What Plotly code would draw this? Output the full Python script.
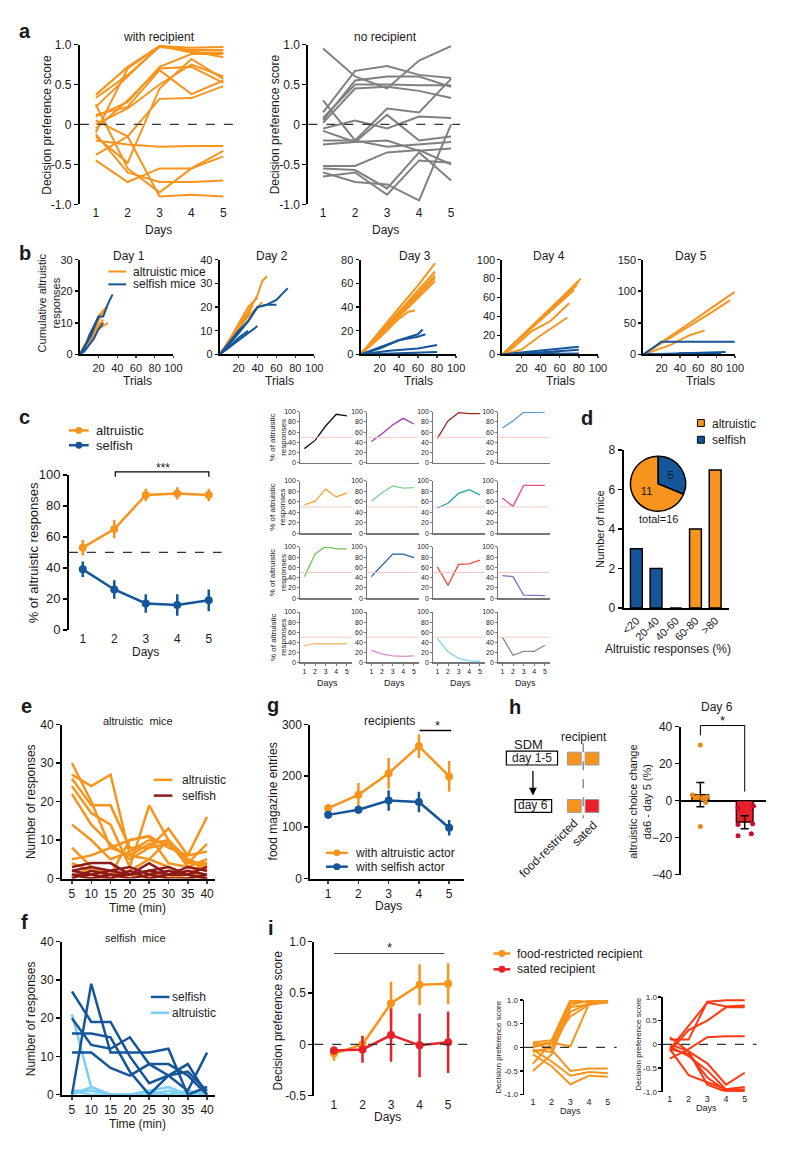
import plotly.graph_objects as go

W, H = 800, 1153
FONT = 'Liberation Sans, Arial, Helvetica, sans-serif'
ORANGE = '#F7941D'
BLUE = '#15569A'
GREY = '#808080'
DARKRED = '#8E1B1B'
LIGHTBLUE = '#7CCFF4'
RED = '#E8202A'
RED2 = '#FF3A12'
TXT = '#1a1a1a'

# ---------------- DATA ----------------
days = [1, 2, 3, 4, 5]
day_ticks = ['1', '2', '3', '4', '5']

# panel a: decision preference score per mouse
a_with_recipient = [
    [0.37, 0.72, 0.98, 0.96, 0.97],
    [0.33, 0.62, 0.97, 0.93, 0.93],
    [0.22, 0.60, 0.98, 0.90, 0.90],
    [-0.10, 0.70, 0.98, 0.92, 0.84],
    [0.10, 0.28, 0.72, 0.88, 0.88],
    [0.12, 0.22, 0.68, 0.38, 0.55],
    [0.00, 0.20, 0.50, 0.75, 0.60],
    [-0.05, 0.30, 0.70, 0.72, 0.52],
    [-0.15, -0.48, 0.45, 0.82, 0.57],
    [0.05, -0.15, 0.32, 0.33, 0.48],
    [-0.20, -0.25, -0.28, -0.27, -0.27],
    [0.25, -0.55, -0.85, -0.55, -0.33],
    [-0.45, -0.72, -0.55, -0.55, -0.40],
    [-0.12, -0.60, -0.72, -0.72, -0.70],
    [-0.38, -0.15, -0.90, -0.88, -0.90],
]
a_no_recipient = [
    [0.95, 0.60, 0.45, 0.80, 0.98],
    [0.15, 0.67, 0.73, 0.62, 0.58],
    [0.05, 0.55, 0.60, 0.60, 0.47],
    [0.08, 0.50, 0.50, 0.49, 0.49],
    [0.02, 0.45, 0.47, 0.42, 0.33],
    [0.30, -0.20, 0.20, 0.15, 0.57],
    [-0.05, 0.05, -0.05, 0.10, 0.08],
    [-0.08, -0.22, 0.12, -0.20, -0.15],
    [-0.20, -0.20, -0.28, -0.25, -0.22],
    [-0.25, -0.22, -0.20, -0.33, -0.30],
    [-0.52, -0.52, -0.35, -0.32, -0.50],
    [-0.55, -0.57, -0.80, -0.35, -0.70],
    [-0.60, -0.72, -0.75, -0.95, 0.00],
    [-0.65, -0.60, -0.88, -0.45, -0.48],
]

# panel b: cumulative altruistic responses vs trials (read knots)
b_titles = ['Day 1', 'Day 2', 'Day 3', 'Day 4', 'Day 5']
b_ymax = [30, 40, 80, 100, 150]
b_yticks = [[0, 10, 20, 30], [0, 10, 20, 30, 40], [0, 20, 40, 60, 80],
            [0, 20, 40, 60, 80, 100], [0, 50, 100, 150]]
b_trial_ticks = [20, 40, 60, 80, 100]
b_altruistic_trials = [
    [[0, 5, 10, 15, 20, 25, 30], [0, 8, 15, 22, 28], [0, 10, 20, 25, 30], [0, 6, 12, 18, 24], [0, 5, 10, 15, 20, 25]],
    [[0, 10, 20, 30, 40, 45, 50], [0, 10, 20, 30, 40], [0, 10, 20, 30, 35], [0, 8, 16, 24, 30], [0, 10, 20, 30, 40, 45], [0, 10, 20, 30]],
    [[0, 20, 40, 60, 78], [0, 20, 40, 60, 78], [0, 20, 40, 60, 78], [0, 20, 40, 60, 78], [0, 20, 40, 60, 78], [0, 20, 40, 50, 57]],
    [[0, 20, 40, 60, 82], [0, 20, 40, 60, 80], [0, 20, 40, 60, 78], [0, 20, 40, 60, 75], [0, 10, 30, 50, 70], [0, 20, 40, 55, 68]],
    [[0, 25, 50, 75, 100], [0, 25, 50, 75, 95], [0, 30, 50, 67]],
]
b_altruistic_counts = [
    [[0, 3, 5, 8, 12, 14, 15], [0, 4, 7, 12, 15], [0, 4, 8, 9, 10], [0, 3, 6, 10, 13], [0, 2, 5, 7, 9, 11]],
    [[0, 5, 12, 18, 25, 31, 33], [0, 6, 13, 20, 24], [0, 5, 11, 17, 21], [0, 4, 9, 14, 17], [0, 6, 11, 16, 20, 22], [0, 5, 9, 14]],
    [[0, 20, 39, 58, 77], [0, 18, 36, 54, 70], [0, 17, 34, 51, 67], [0, 17, 33, 50, 65], [0, 16, 32, 48, 62], [0, 14, 30, 36, 37]],
    [[0, 19, 39, 58, 80], [0, 19, 38, 57, 77], [0, 19, 37, 56, 73], [0, 18, 36, 54, 68], [0, 6, 24, 35, 54], [0, 5, 20, 30, 39]],
    [[0, 24, 49, 74, 99], [0, 22, 45, 67, 86], [0, 15, 30, 38]],
]
b_selfish_trials = [
    [[0, 5, 10, 15, 20, 25, 30, 35], [0, 5, 10, 15, 20, 25], [0, 4, 8, 12, 16, 20]],
    [[0, 10, 20, 30, 40, 50, 60, 72], [0, 10, 20, 30, 40, 50, 60], [0, 10, 20, 30, 40], [0, 10, 20, 30]],
    [[0, 20, 40, 60, 65], [0, 20, 40, 60, 68], [0, 30, 60, 80], [0, 40, 80], [0, 60]],
    [[0, 40, 80], [0, 40, 80], [0, 80], [0, 60]],
    [[0, 20, 100], [0, 80], [0, 90], [0, 35, 40, 85]],
]
b_selfish_counts = [
    [[0, 2, 6, 9, 12, 12, 16, 19], [0, 1, 3, 5, 8, 10], [0, 2, 4, 6, 9, 12]],
    [[0, 4, 9, 14, 20, 21, 23, 28], [0, 5, 10, 14, 20, 21, 21], [0, 3, 6, 9, 12], [0, 3, 7, 10]],
    [[0, 5, 12, 17, 21], [0, 6, 12, 15, 17], [0, 3, 5, 8], [0, 1, 2], [0, 0]],
    [[0, 4, 8], [0, 2, 5], [0, 1], [0, 3]],
    [[0, 20, 20], [0, 2], [0, 4], [0, 0, 2, 2]],
]

# panel c: mean % altruistic responses
c_altruistic_mean = [53, 65, 87, 88, 87]
c_altruistic_sem = [5, 6, 4, 4, 4]
c_selfish_mean = [39, 26, 17, 16, 19]
c_selfish_sem = [5, 6, 6, 7, 7]
# individual mice (4x4 grid)
c_mice = [
    [28, 44, 72, 95, 92], [42, 57, 74, 87, 76], [48, 82, 98, 96, 96], [68, 82, 99, 98, 99],
    [54, 61, 84, 69, 77], [61, 77, 90, 86, 87], [48, 57, 76, 83, 73], [67, 51, 91, 91, 91],
    [42, 86, 101, 96, 96], [42, 64, 86, 86, 79], [61, 25, 66, 67, 74], [44, 42, 6, 5, 5],
    [33, 37, 37, 37, 37], [24, 17, 13, 12, 13], [47, 21, 8, 3, 2], [50, 14, 22, 22, 34],
]
c_mice_colors = [
    '#111111', '#9B3FA6', '#A32626', '#5B9BD5',
    '#F7A23C', '#7FCE8F', '#20A39E', '#E84B8A',
    '#6CC24A', '#1F5F9A', '#EE4B3C', '#8E6BBF',
    '#F5C07A', '#D88AC9', '#7FD4F0', '#8A8A8A',
]

# panel d
d_bins = ['<20', '20-40', '40-60', '60-80', '>80']
d_counts = [3, 2, 0, 4, 7]
d_groups = ['selfish', 'selfish', 'selfish', 'altruistic', 'altruistic']
d_pie_labels = ['selfish', 'altruistic']
d_pie_values = [5, 11]

# panel e / f: responses per 5-min bin
time_min = [5, 10, 15, 20, 25, 30, 35, 40]
e_altruistic = [
    [30, 20, 8, 6, 9, 10, 3, 5],
    [27, 24, 27, 6, 5, 10, 4, 9],
    [26, 19, 19, 8, 8, 9, 5, 3],
    [24, 17, 14, 3, 19, 10, 5, 2],
    [22, 14, 9, 5, 8, 13, 6, 16],
    [14, 10, 5, 7, 10, 9, 4, 4],
    [8, 3, 1, 10, 11, 8, 6, 7],
    [5, 6, 8, 10, 11, 4, 3, 2],
    [4, 2, 1, 2, 5, 3, 1, 4],
    [1, 0, 0, 1, 0, 1, 0, 0],
    [0, 3, 0, 1, 2, 0, 2, 0],
]
e_selfish = [
    [3, 4, 4, 1, 2, 1, 2, 1],
    [2, 3, 2, 3, 1, 2, 1, 0],
    [1, 1, 2, 1, 4, 1, 1, 3],
    [0, 2, 1, 0, 1, 0, 0, 1],
    [2, 1, 0, 2, 0, 1, 3, 2],
    [1, 0, 1, 1, 2, 3, 1, 0],
]
f_selfish = [
    [27, 19, 19, 10, 3, 5, 6, 1],
    [0, 29, 11, 11, 11, 12, 0, 2],
    [20, 13, 12, 15, 8, 8, 5, 0],
    [16, 16, 15, 6, 0, 5, 8, 0],
    [11, 11, 7, 5, 8, 5, 1, 11],
]
f_altruistic = [
    [21, 2, 0, 0, 1, 2, 0, 0],
    [1, 1, 0, 0, 0, 1, 0, 1],
    [0, 2, 0, 0, 0, 0, 0, 0],
    [1, 0, 0, 0, 1, 0, 1, 0],
]

# panel g
g_altruistic_mean = [137, 163, 205, 258, 199]
g_altruistic_sem = [8, 23, 30, 23, 30]
g_selfish_mean = [124, 134, 152, 149, 99]
g_selfish_sem = [7, 8, 20, 20, 15]

# panel h
h_groups = [1, 2]
h_means = [3.2, -11.7]
h_sem = [6.5, 3.5]
h_fed_x = [1.0, 0.82, 1.15, 1.05, 0.95, 1.12, 1.0]
h_fed_y = [30, 3, 2, 1, 2, -1, -14]
h_sated_x = [1.85, 2.2, 1.85, 2.18, 1.85, 2.15]
h_sated_y = [-4, -3, -13, -12.5, -19, -18]

# panel i
i_fed_mean = [-0.09, 0.00, 0.40, 0.58, 0.59]
i_fed_sem = [0.07, 0.08, 0.21, 0.20, 0.20]
i_sated_mean = [-0.06, -0.05, 0.09, -0.01, 0.02]
i_sated_sem = [0.04, 0.13, 0.26, 0.31, 0.30]
i_fed_mice = [
    [0.10, 0.15, 1.00, 0.95, 0.97],
    [0.05, 0.10, 0.95, 0.97, 0.98],
    [-0.10, 0.00, 0.90, 0.98, 0.95],
    [-0.05, -0.10, 0.75, 0.93, 0.95],
    [0.00, 0.10, 0.65, 0.90, 0.95],
    [-0.35, 0.10, 0.02, 0.92, 0.97],
    [-0.50, -0.15, 0.85, 0.90, 0.97],
    [0.10, -0.05, -0.50, -0.45, -0.45],
    [-0.05, -0.30, -0.60, -0.52, -0.55],
    [-0.15, -0.40, -0.78, -0.60, -0.62],
]
i_sated_mice = [
    [0.10, 0.10, 0.90, 0.93, 0.93],
    [-0.10, 0.40, 0.88, 0.80, 0.82],
    [-0.15, 0.30, 0.50, 0.78, 0.78],
    [-0.30, -0.10, 0.15, 0.17, 0.17],
    [0.15, -0.15, -0.40, -0.85, -0.60],
    [-0.05, -0.25, -0.55, -0.95, -0.90],
    [-0.10, -0.20, -0.70, -0.98, -0.95],
    [-0.10, -0.65, -0.80, -0.95, -1.00],
    [0.00, -0.15, -0.85, -1.00, -0.98],
]

# ---------------- HELPERS ----------------
fig = go.Figure()
LAX = {}
ANN = []
SHP = []
cnt = [0]


def axes(x0, x1, ytop, ybot, xr, yr, xa=None, ya=None):
    cnt[0] += 1
    n = cnt[0]
    s = '' if n == 1 else str(n)
    xd = dict(domain=[x0 / W, x1 / W], range=xr, anchor='y' + s, showgrid=False,
              zeroline=False, showline=False, ticks='', fixedrange=True,
              tickvals=days, ticktext=day_ticks,
              tickfont=dict(family=FONT, size=12, color=TXT))
    yd = dict(domain=[1 - ybot / H, 1 - ytop / H], range=yr, anchor='x' + s, showgrid=False,
              zeroline=False, showline=True, linecolor='black', linewidth=2,
              ticks='outside', ticklen=4, tickwidth=1.5, tickcolor='black', fixedrange=True,
              tickfont=dict(family=FONT, size=12, color=TXT))
    if xa:
        xd.update(xa)
    if ya:
        yd.update(ya)
    LAX['xaxis' + s] = xd
    LAX['yaxis' + s] = yd
    return 'x' + s, 'y' + s


def text(t, x, y, size=12, rot=0, bold=False, xanchor='center', color=TXT):
    ANN.append(dict(text=('<b>%s</b>' % t) if bold else t, x=x / W, y=1 - y / H,
                    xref='paper', yref='paper', showarrow=False,
                    font=dict(family=FONT, size=size, color=color), textangle=rot,
                    xanchor=xanchor, yanchor='middle'))


def pline(x0, y0, x1, y1, color='black', width=1.5, dash=None):
    d = dict(type='line', xref='paper', yref='paper', x0=x0 / W, x1=x1 / W,
             y0=1 - y0 / H, y1=1 - y1 / H, line=dict(color=color, width=width))
    if dash:
        d['line']['dash'] = dash
    SHP.append(d)


def ppath(pts, color='black', width=1.2):
    p = 'M ' + ' L '.join('%f %f' % (x / W, 1 - y / H) for x, y in pts)
    SHP.append(dict(type='path', xref='paper', yref='paper', path=p,
                    line=dict(color=color, width=width)))


def prect(x0, y0, x1, y1, fill='white', color='black', width=1.2):
    SHP.append(dict(type='rect', xref='paper', yref='paper', x0=x0 / W, x1=x1 / W,
                    y0=1 - y1 / H, y1=1 - y0 / H, fillcolor=fill,
                    line=dict(color=color, width=width)))


def pdot(cx, cy, r, color):
    SHP.append(dict(type='circle', xref='paper', yref='paper', x0=(cx - r) / W, x1=(cx + r) / W,
                    y0=1 - (cy + r) / H, y1=1 - (cy - r) / H, fillcolor=color,
                    line=dict(color=color, width=0)))


def legend_line(x0, x1, y, color, label, size=12, width=2.5, marker=False, gap=5):
    pline(x0, y, x1, y, color=color, width=width)
    if marker:
        pdot((x0 + x1) / 2, y, 3.5, color)
    text(label, x1 + gap, y, size=size, xanchor='left')


def dash0(xa, ya, yval=0, color='#333', width=1.3):
    SHP.append(dict(type='line', xref=xa + ' domain', yref=ya, x0=0, x1=1, y0=yval, y1=yval,
                    line=dict(color=color, width=width, dash='dash')))


def lines(xa, ya, xs, ys, color, width=2):
    fig.add_trace(go.Scatter(x=xs, y=ys, mode='lines', line=dict(color=color, width=width),
                             xaxis=xa, yaxis=ya, showlegend=False, hoverinfo='skip'))


def meanline(xa, ya, ys, err, color, width=2.5, msize=8):
    fig.add_trace(go.Scatter(x=days, y=ys, mode='lines+markers',
                             line=dict(color=color, width=width),
                             marker=dict(color=color, size=msize),
                             error_y=dict(type='data', array=err, color=color, thickness=2.5, width=0),
                             xaxis=xa, yaxis=ya, showlegend=False, hoverinfo='skip'))


# ---------------- PANEL a ----------------
dps_y = dict(tickvals=[-1, -0.5, 0, 0.5, 1], ticktext=['-1.0', '-0.5', '0', '0.5', '1.0'])
xa, ya = axes(78, 235, 38, 200, [0.5, 5.35], [-1, 1], ya=dps_y)
for s in a_with_recipient:
    lines(xa, ya, days, s, ORANGE, 2)
dash0(xa, ya)
xa, ya = axes(310, 464, 38, 200, [0.54, 5.28], [-1, 1], ya=dps_y)
for s in a_no_recipient:
    lines(xa, ya, days, s, GREY, 2)
dash0(xa, ya)
text('a', 22, 24, 20, bold=True)
text('with recipient', 158, 30, 12)
text('no recipient', 388, 30, 12)
text('Decision preference score', 45, 119, 12, rot=-90)
text('Decision preference score', 277, 119, 12, rot=-90)
text('Days', 158, 226, 12)
text('Days', 388, 226, 12)

# ---------------- PANEL b ----------------
b_px = [(78, 173), (220, 316), (363, 460), (507, 604), (650, 743)]
b_title_x = [128, 273, 418, 554, 698]
b_trial_x = [137, 281, 422, 566, 708]
for k in range(5):
    x0, x1 = b_px[k]
    xa, ya = axes(x0, x1, 256, 352, [0, 100], [0, b_ymax[k]],
                  xa=dict(showline=True, linecolor='black', linewidth=2, ticks='outside',
                          ticklen=2, tickwidth=1.5, tickvals=b_trial_ticks,
                          ticktext=[str(v) for v in b_trial_ticks],
                          tickfont=dict(family=FONT, size=11, color=TXT)),
                  ya=dict(tickvals=b_yticks[k], ticklen=3,
                          tickfont=dict(family=FONT, size=11, color=TXT)))
    for tx, cy in zip(b_altruistic_trials[k], b_altruistic_counts[k]):
        lines(xa, ya, tx, cy, ORANGE, 2)
    for tx, cy in zip(b_selfish_trials[k], b_selfish_counts[k]):
        lines(xa, ya, tx, cy, BLUE, 2)
    text(b_titles[k], b_title_x[k], 252, 12)
    text('Trials', b_trial_x[k], 379, 12)
text('b', 22, 249, 20, bold=True)
text('Cumulative altruistic<br>responses', 47, 300, 11, rot=-90)
legend_line(107, 125, 268, ORANGE, 'altruistic mice', size=12, width=2)
legend_line(107, 125, 281, BLUE, 'selfish mice', size=12, width=2)

# ---------------- PANEL c ----------------
xa, ya = axes(67, 222, 474, 631, [0.5625, 5.41], [0, 100],
              ya=dict(tickvals=[0, 20, 40, 60, 80, 100], tickfont=dict(family=FONT, size=13, color=TXT)),
              xa=dict(tickfont=dict(family=FONT, size=12, color=TXT)))
dash0(xa, ya, 50)
meanline(xa, ya, c_altruistic_mean, c_altruistic_sem, ORANGE)
meanline(xa, ya, c_selfish_mean, c_selfish_sem, BLUE)
text('c', 22, 415, 20, bold=True)
legend_line(67, 87, 429, ORANGE, 'altruistic', size=13, marker=True)
legend_line(67, 87, 444, BLUE, 'selfish', size=13, marker=True)
ppath([(114, 476), (114, 471), (209, 471), (209, 476)])
text('***', 162, 467, 12)
text('% of altruistic responses', 31, 553, 13, rot=-90)
text('Days', 145, 653, 12)

sm_cols = [302, 370, 437, 503]
sm_rows = [(410, 462), (480, 533), (547, 599), (613, 664)]
for idx in range(16):
    r, c = divmod(idx, 4)
    x0 = sm_cols[c]
    yt, yb = sm_rows[r]
    last = (r == 3)
    xa, ya = axes(x0, x0 + 52, yt, yb, [0.63, 5.45], [0, 100],
                  xa=dict(showline=True, linecolor='#777', linewidth=1.5,
                          showticklabels=last, ticks='outside' if last else '', ticklen=2,
                          tickcolor='#777', tickfont=dict(family=FONT, size=7, color=TXT)),
                  ya=dict(tickvals=[0, 20, 40, 60, 80, 100], linecolor='#777', linewidth=1.2,
                          ticklen=2, tickwidth=1, tickcolor='#777',
                          tickfont=dict(family=FONT, size=7, color=TXT)))
    SHP.append(dict(type='line', xref=xa + ' domain', yref=ya, x0=0, x1=1, y0=50, y1=50,
                    line=dict(color='#F8C8C8', width=1)))
    lines(xa, ya, days, c_mice[idx], c_mice_colors[idx], 1.3)
    if c == 0:
        text('% of altruistic<br>responses', 279, (yt + yb) / 2, 8, rot=-90)
    if last:
        text('Days', x0 + 27, 685, 9)

# ---------------- PANEL d ----------------
xa, ya = axes(630, 737, 449, 609, [0.35, 5.7], [0, 8],
              xa=dict(showline=True, linecolor='black', linewidth=2, tickvals=[1, 2, 3, 4, 5],
                      ticktext=d_bins, tickangle=-45, tickfont=dict(family=FONT, size=11, color=TXT)),
              ya=dict(tickvals=[0, 2, 4, 6, 8], tickfont=dict(family=FONT, size=12, color=TXT)))
fig.add_trace(go.Bar(x=[1, 2, 3, 4, 5], y=d_counts, width=0.6,
                     marker=dict(color=[BLUE if g == 'selfish' else ORANGE for g in d_groups],
                                 line=dict(color='black', width=1.5)),
                     xaxis=xa, yaxis=ya, showlegend=False, hoverinfo='skip'))
fig.add_trace(go.Pie(labels=d_pie_labels, values=d_pie_values, sort=False, direction='clockwise',
                     rotation=0, marker=dict(colors=[BLUE, ORANGE], line=dict(color='black', width=1.5)),
                     textinfo='value', textposition='inside', insidetextorientation='horizontal',
                     textfont=dict(family=FONT, size=11, color='#111'),
                     domain=dict(x=[637 / W, 693 / W], y=[1 - 511 / H, 1 - 455 / H]),
                     showlegend=False, hoverinfo='skip'))
text('d', 593, 416, 20, bold=True)
text('total=16', 665, 519, 11)
text('Number of mice', 606, 529, 11, rot=-90)
text('Altruistic responses (%)', 675, 650, 12)
prect(705, 418, 712, 425, fill=ORANGE, width=1)
text('altruistic', 718, 422, 12, xanchor='left')
prect(705, 435, 712, 442, fill=BLUE, width=1)
text('selfish', 718, 439, 12, xanchor='left')

# ---------------- PANEL e ----------------
time_x = dict(showline=True, linecolor='black', linewidth=2, ticks='outside', ticklen=3,
              tickwidth=1.5, tickvals=time_min, ticktext=[str(t) for t in time_min],
              tickfont=dict(family=FONT, size=12, color=TXT))
xa, ya = axes(60, 215, 727, 883, [2.45, 42], [0, 40], xa=time_x,
              ya=dict(tickvals=[0, 10, 20, 30, 40]))
for s in e_altruistic:
    lines(xa, ya, time_min, s, ORANGE, 2.5)
for s in e_selfish:
    lines(xa, ya, time_min, s, DARKRED, 2.5)
text('e', 24, 708, 20, bold=True)
text('altruistic  mice', 137, 723, 11)
legend_line(153, 172, 783, ORANGE, 'altruistic', size=12, gap=8)
legend_line(153, 172, 799, DARKRED, 'selfish', size=12, gap=8)
text('Number of responses', 28, 805, 12, rot=-90)
text('Time (min)', 137, 913, 12)

# ---------------- PANEL f ----------------
xa, ya = axes(60, 215, 947, 1102, [2.45, 42], [0, 40], xa=time_x,
              ya=dict(tickvals=[0, 10, 20, 30, 40]))
for s in f_altruistic:
    lines(xa, ya, time_min, s, LIGHTBLUE, 2.5)
for s in f_selfish:
    lines(xa, ya, time_min, s, BLUE, 2.5)
text('f', 22, 927, 20, bold=True)
text('selfish  mice', 135, 943, 11)
legend_line(150, 169, 1003, BLUE, 'selfish', size=12, gap=1)
legend_line(150, 169, 1019, LIGHTBLUE, 'altruistic', size=12, gap=1)
text('Number of responses', 28, 1025, 12, rot=-90)
text('Time (min)', 137, 1132, 12)

# ---------------- PANEL g ----------------
xa, ya = axes(312, 468, 727, 883, [0.41, 5.49], [0, 300],
              xa=dict(showline=True, linecolor='black', linewidth=2, ticks='outside', ticklen=3,
                      tickwidth=1.5),
              ya=dict(tickvals=[0, 100, 200, 300]))
meanline(xa, ya, g_altruistic_mean, g_altruistic_sem, ORANGE)
meanline(xa, ya, g_selfish_mean, g_selfish_sem, BLUE)
text('g', 274, 707, 20, bold=True)
text('recipients', 392, 723, 12)
pline(423, 733, 455, 733, width=1.5)
text('*', 441, 728, 13)
legend_line(328, 350, 857, ORANGE, 'with altruistic actor', size=12, marker=True)
legend_line(328, 350, 871, BLUE, 'with selfish actor', size=12, marker=True)
text('food magazine entries', 274, 805, 12, rot=-90)
text('Days', 391, 911, 12)

# ---------------- PANEL h ----------------
text('h', 520, 709, 20, bold=True)
text('SDM', 533, 747, 13)
prect(511, 754, 563, 768)
text('day 1-5', 537, 761, 12)
ANN.append(dict(x=538 / W, y=1 - 799 / H, xref='paper', yref='paper', ax=0, ay=-26,
                axref='pixel', ayref='pixel', showarrow=True, arrowhead=2, arrowsize=1.2,
                arrowwidth=1.3, arrowcolor='black', text=''))
prect(520, 803, 557, 816)
text('day 6', 538, 809, 12)
text('recipient', 590, 740, 12)
prect(573, 755, 587, 768, fill=ORANGE, color='#999', width=1)
prect(591, 755, 605, 768, fill=ORANGE, color='#999', width=1)
prect(573, 803, 587, 816, fill=ORANGE, color='#999', width=1)
prect(591, 803, 605, 816, fill=RED, color='#999', width=1)
pline(589, 746, 589, 822, color='#555', width=1, dash='dash')
text('food-restricted', 554, 852, 12, rot=-45)
text('sated', 590, 838, 12, rot=-45)

xa, ya = axes(688, 775, 729, 879, [0.556, 2.49], [-40, 40],
              xa=dict(showticklabels=False),
              ya=dict(tickvals=[-40, -20, 0, 20, 40], zeroline=True, zerolinecolor='black',
                      zerolinewidth=2))
fig.add_trace(go.Bar(x=h_groups, y=h_means, width=0.38,
                     marker=dict(color=[ORANGE, RED], line=dict(color='black', width=1.2)),
                     error_y=dict(type='data', array=h_sem, color='black', thickness=1.5, width=4),
                     xaxis=xa, yaxis=ya, showlegend=False, hoverinfo='skip'))
fig.add_trace(go.Scatter(x=h_fed_x, y=h_fed_y, mode='markers',
                         marker=dict(color='#E8891A', size=5), xaxis=xa, yaxis=ya,
                         showlegend=False, hoverinfo='skip'))
fig.add_trace(go.Scatter(x=h_sated_x, y=h_sated_y, mode='markers',
                         marker=dict(color='#C8102E', size=5), xaxis=xa, yaxis=ya,
                         showlegend=False, hoverinfo='skip'))
ppath([(708, 738), (708, 728), (753, 728), (753, 795)], width=1)
text('*', 730, 723, 13)
text('Day 6', 725, 709, 12)
text('altruistic choice change<br>da6 - day 5 (%)', 646, 805, 11, rot=-90)

# ---------------- PANEL i ----------------
xa, ya = axes(316, 478, 947, 1103, [0.31, 5.9], [-0.5, 1.0],
              ya=dict(tickvals=[-0.5, 0, 0.5, 1.0], ticktext=['-0.5', '0', '0.5', '1.0']))
dash0(xa, ya)
meanline(xa, ya, i_fed_mean, i_fed_sem, ORANGE)
meanline(xa, ya, i_sated_mean, i_sated_sem, RED)
text('i', 272, 933, 20, bold=True)
pline(336, 959, 448, 959, color='#444', width=1.2)
text('*', 392, 953, 13)
text('Decision preference score', 279, 1027, 12, rot=-90)
text('Days', 390, 1125, 12)
legend_line(498, 515, 959, ORANGE, 'food-restricted recipient', size=12, marker=True)
legend_line(498, 515, 975, RED, 'sated recipient', size=12, marker=True)

small_y = dict(tickvals=[-1, -0.5, 0, 0.5, 1], ticktext=['-1.0', '-0.5', '0', '0.5', '1.0'],
               linewidth=1.5, ticklen=3, tickfont=dict(family=FONT, size=8, color=TXT))
small_x = dict(tickfont=dict(family=FONT, size=9, color=TXT))
xa, ya = axes(529, 623, 1006, 1102, [0.53, 5.47], [-1, 1], xa=small_x, ya=small_y)
dash0(xa, ya)
for s in i_fed_mice:
    lines(xa, ya, days, s, ORANGE, 2)
text('Decision preference score', 503, 1054, 8, rot=-90)
text('Days', 576, 1119, 9)
xa, ya = axes(670, 765, 1003, 1099, [0.63, 5.63], [-1, 1], xa=small_x, ya=small_y)
dash0(xa, ya)
for s in i_sated_mice:
    lines(xa, ya, days, s, RED2, 2)
text('Decision preference score', 645, 1051, 8, rot=-90)
text('Days', 714, 1116, 9)

# ---------------- LAYOUT ----------------
fig.update_layout(width=W, height=H, margin=dict(l=0, r=0, t=0, b=0),
                  paper_bgcolor='white', plot_bgcolor='white',
                  font=dict(family=FONT, color=TXT), annotations=ANN, shapes=SHP,
                  bargap=0, **LAX)
fig.write_html('out.html', post_script="document.body.style.margin='0';",
               config={'displayModeBar': False, 'staticPlot': True})
